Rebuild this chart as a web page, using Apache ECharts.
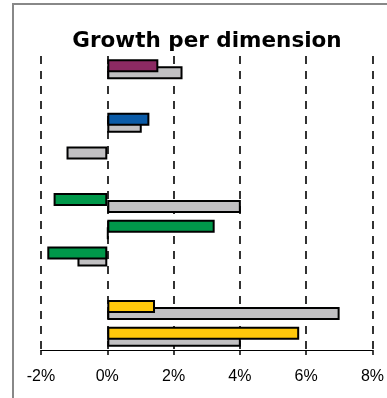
<!DOCTYPE html>
<html>
<head>
<meta charset="utf-8">
<script src="https://cdn.jsdelivr.net/npm/echarts@6/dist/echarts.min.js"></script>
<style>
html,body{margin:0;padding:0;background:#fff;}
#chart{width:387px;height:398px;}
</style>
</head>
<body>
<div id="chart"></div>
<script>
// Categories (slots from top to bottom; labels are not shown in the reference)
var categories = ['D1','D2','D3','D4','D5','D6','D7','D8','D9','D10','D11'];
// Growth of the dimension (%), coloured bars
var growthValues = [1.54, null, 1.27, null, null, -1.62, 3.24, -1.81, null, 1.44, 5.79];
var growthColors = ['#8C2A63', null, '#0B5BA7', null, null, '#00984A', '#00984A', '#00984A', null, '#FFC80B', '#FFC80B'];
// Comparison values (%), grey bars
var compareValues = [2.27, null, 1.04, -1.23, null, 4.03, 0.03, -0.90, null, 7.01, 4.03];
// Axis ticks
var xMin = -2, xMax = 8, xInterval = 2;

var chart = echarts.init(document.getElementById('chart'), null, {renderer: 'canvas'});

var coloredData = growthValues.map(function (v, i) {
  return {value: v, itemStyle: {color: growthColors[i] || '#999'}};
});

chart.setOption({
  animation: false,
  backgroundColor: '#fff',
  title: {
    text: 'Growth per dimension',
    left: 207,
    textAlign: 'center',
    top: 30,
    padding: 0,
    textStyle: {fontFamily: 'DejaVu Sans', fontWeight: 'bold', fontSize: 21.5, color: '#000'}
  },
  graphic: [{
    type: 'rect',
    shape: {x: 13, y: 4, width: 420, height: 430},
    style: {fill: null, stroke: '#888', lineWidth: 2},
    silent: true,
    z: 100
  }],
  grid: {left: 41, right: 13, top: 56, height: 294},
  xAxis: {
    type: 'value',
    min: xMin, max: xMax, interval: xInterval,
    axisLine: {show: true, lineStyle: {color: '#000', width: 1}},
    axisTick: {show: true, length: 5, lineStyle: {color: '#000', width: 1.5}},
    axisLabel: {formatter: '{value}%', color: '#000', fontFamily: 'Liberation Sans', fontSize: 16, margin: 19},
    splitLine: {show: true, lineStyle: {color: '#000', width: 1.6, type: [8, 7]}}
  },
  yAxis: {
    type: 'category',
    data: categories,
    inverse: true,
    axisLine: {show: false},
    axisTick: {show: false},
    axisLabel: {show: false},
    splitLine: {show: false}
  },
  series: [{
    name: 'Growth',
    type: 'bar',
    data: coloredData,
    barWidth: 13,
    barGap: '-46%',
    z: 3,
    itemStyle: {borderColor: '#000', borderWidth: 2}
  }, {
    name: 'Comparison',
    type: 'bar',
    data: compareValues,
    barWidth: 13,
    barGap: '-46%',
    z: 2,
    itemStyle: {color: '#C1C0C2', borderColor: '#000', borderWidth: 2}
  }]
});
</script>
</body>
</html>
